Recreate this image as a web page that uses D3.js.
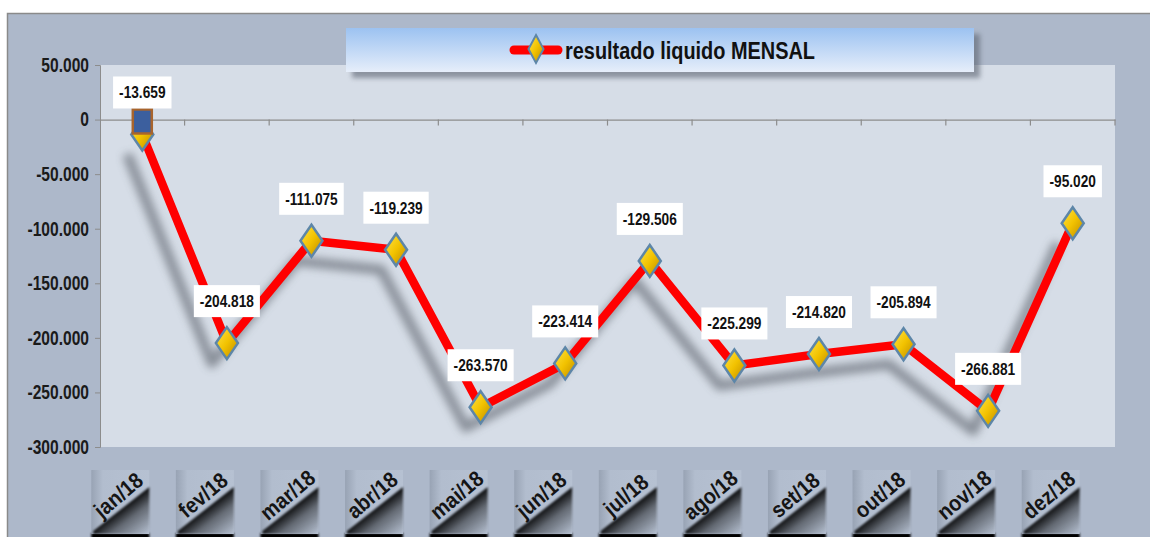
<!DOCTYPE html>
<html>
<head>
<meta charset="utf-8">
<script src="https://cdn.jsdelivr.net/npm/d3@7"></script>
<style>
  html, body { margin: 0; padding: 0; background: #fff; }
  svg { display: block; }
  text { font-family: "Liberation Sans", Arial, sans-serif; font-weight: bold; }
</style>
</head>
<body>
<div id="main"></div>
<script>
// chart data
const months = ['jan/18', 'fev/18', 'mar/18', 'abr/18', 'mai/18', 'jun/18', 'jul/18', 'ago/18', 'set/18', 'out/18', 'nov/18', 'dez/18'];
const resultado = [-13659, -204818, -111075, -119239, -263570, -223414, -129506, -225299, -214820, -205894, -266881, -95020];
const yTicks = [50000, 0, -50000, -100000, -150000, -200000, -250000, -300000];
const seriesName = 'resultado liquido MENSAL';

const width = 1150;
const height = 537;
const plot = { left: 100, right: 1115, top: 65, bottom: 447 };

const ptBR = d3.formatLocale({
  decimal: ',', thousands: '.', grouping: [3], currency: ['', ''], minus: '-',
});
const fmt = ptBR.format(',');

const svg = d3.select('#main').append('svg').attr('width', width).attr('height', height);
const defs = svg.append('defs');

const blur = (id, sd) => defs.append('filter').attr('id', id)
  .attr('x', '-50%').attr('y', '-50%').attr('width', '200%').attr('height', '200%')
  .append('feGaussianBlur').attr('stdDeviation', sd);
blur('shadowBlur', 4);
blur('softBlur', 2.5);
blur('tinyBlur', 1.2);

const legendGrad = defs.append('linearGradient').attr('id', 'legendGrad').attr('x1', 0).attr('y1', 0).attr('x2', 0).attr('y2', 1);
legendGrad.append('stop').attr('offset', '0%').attr('stop-color', '#9cc2f1');
legendGrad.append('stop').attr('offset', '100%').attr('stop-color', '#e6eefa');

const goldGrad = defs.append('linearGradient').attr('id', 'goldGrad').attr('x1', 0).attr('y1', 0).attr('x2', 1).attr('y2', 1);
goldGrad.append('stop').attr('offset', '0%').attr('stop-color', '#ffe54a');
goldGrad.append('stop').attr('offset', '50%').attr('stop-color', '#f2c200');
goldGrad.append('stop').attr('offset', '100%').attr('stop-color', '#b88600');

const boxGrad = defs.append('linearGradient').attr('id', 'boxGrad').attr('x1', 0).attr('y1', 0).attr('x2', 1).attr('y2', 0);
boxGrad.append('stop').attr('offset', '0%').attr('stop-color', '#98a3b4');
boxGrad.append('stop').attr('offset', '20%').attr('stop-color', '#b2bdce');
boxGrad.append('stop').attr('offset', '100%').attr('stop-color', '#b6c1d2');

// shadow under the rotated category text
const catShade = defs.append('linearGradient').attr('id', 'catShade')
  .attr('gradientUnits', 'userSpaceOnUse')
  .attr('x1', 1.5).attr('y1', 8).attr('x2', 23.7).attr('y2', 37.1);
catShade.append('stop').attr('offset', '0%').attr('stop-color', '#000').attr('stop-opacity', 0.9);
catShade.append('stop').attr('offset', '35%').attr('stop-color', '#000').attr('stop-opacity', 0.45);
catShade.append('stop').attr('offset', '100%').attr('stop-color', '#000').attr('stop-opacity', 0);

// chart area background
svg.append('rect').attr('x', 7).attr('y', 13).attr('width', width - 7).attr('height', height - 13)
  .attr('fill', '#adb8ca');
svg.append('path').attr('d', `M7.5,${height}V13.5H${width}`).attr('fill', 'none')
  .attr('stroke', '#8a8a8a').attr('stroke-width', 1.5);

// plot area
svg.append('rect').attr('x', plot.left).attr('y', plot.top)
  .attr('width', plot.right - plot.left).attr('height', plot.bottom - plot.top)
  .attr('fill', '#d6dde7');

const x = d3.scaleBand().domain(months).range([plot.left, plot.right]);
const y = d3.scaleLinear().domain([-300000, 50000]).range([plot.bottom, plot.top]);

// y axis
const tickSx = 0.78;
const yAxis = svg.append('g').attr('transform', `translate(${plot.left},0)`)
  .call(d3.axisLeft(y).tickValues(yTicks).tickFormat(fmt).tickSize(5).tickPadding(7));
yAxis.select('.domain').attr('stroke', '#8c8c8c');
yAxis.selectAll('.tick line').attr('stroke', '#8c8c8c');
yAxis.selectAll('.tick text').attr('font-size', 20).attr('fill', '#1a1a1a')
  .attr('font-family', '"Liberation Sans", Arial, sans-serif')
  .attr('font-weight', 'bold')
  .attr('x', -11 / tickSx)
  .attr('transform', `scale(${tickSx},1)`);

// zero axis with shadow
svg.append('line').attr('x1', plot.left).attr('x2', plot.right)
  .attr('y1', y(0) + 14).attr('y2', y(0) + 14)
  .attr('stroke', '#7d8594').attr('stroke-width', 6).attr('opacity', 0.45)
  .attr('filter', 'url(#shadowBlur)');
const xAxis = svg.append('g').attr('transform', `translate(0,${y(0)})`)
  .call(d3.axisBottom(x).tickSize(0).tickFormat(''));
xAxis.select('.domain').attr('stroke', '#8c8c8c').attr('stroke-width', 1.2);
const bounds = months.map((m) => x(m)).concat([plot.right]).slice(1);
svg.selectAll('.xtick').data(bounds).enter().append('line')
  .attr('x1', (d) => d).attr('x2', (d) => d)
  .attr('y1', y(0)).attr('y2', y(0) + 6)
  .attr('stroke', '#8c8c8c').attr('stroke-width', 1.2);

// category labels in shadowed boxes
const catG = svg.append('g');
months.forEach((m) => {
  const cx = x(m) + x.bandwidth() / 2 - 22;
  const g = catG.append('g').attr('transform', `translate(${cx},501)`);
  g.append('rect').attr('x', -29).attr('y', 32).attr('width', 58).attr('height', 10)
    .attr('fill', '#000').attr('filter', 'url(#tinyBlur)');
  g.append('rect').attr('x', -29).attr('y', -31).attr('width', 58).attr('height', 64)
    .attr('fill', 'url(#boxGrad)');
  g.append('path').attr('d', 'M29,-14 L29,33 L-27,33 L-27,30 Z').attr('fill', 'url(#catShade)')
    .attr('filter', 'url(#tinyBlur)');
  g.append('text').attr('transform', 'translate(-2,-6) rotate(-40) scale(0.9,1)')
    .attr('text-anchor', 'middle')
    .attr('dy', '0.35em').attr('font-size', 22)
    .attr('fill', '#151515').text(m);
});

// line shadow
const pts = months.map((m, i) => [x(m) + x.bandwidth() / 2, y(resultado[i])]);
const line = d3.line();
svg.append('path').attr('d', line(pts.map(([px, py]) => [px - 15, py + 20])))
  .attr('fill', 'none').attr('stroke', '#4a4f58').attr('stroke-width', 10)
  .attr('stroke-linejoin', 'round').attr('opacity', 0.55).attr('filter', 'url(#shadowBlur)');

// main line
svg.append('path').attr('d', line(pts)).attr('fill', 'none')
  .attr('stroke', '#ff0000').attr('stroke-width', 8.5).attr('stroke-linejoin', 'round');

// markers
const diamond = (w, h) => `M0,${-h}L${w},0L0,${h}L${-w},0Z`;
svg.selectAll('.marker').data(pts).enter().append('path')
  .attr('transform', (d) => `translate(${d[0]},${d[1]})`)
  .attr('d', diamond(11, 16))
  .attr('fill', 'url(#goldGrad)').attr('stroke', '#5d86a8').attr('stroke-width', 2.5);
// first point drawn as the boxed marker of the original
svg.append('rect').attr('x', pts[0][0] - 9.5).attr('y', pts[0][1] - 25)
  .attr('width', 19).attr('height', 24)
  .attr('fill', '#3c5f9e').attr('stroke', '#a8642c').attr('stroke-width', 2.5);

// data labels
const labelSx = 0.83;
const labelG = svg.append('g');
pts.forEach(([px, py], i) => {
  const g = labelG.append('g').attr('transform', `translate(${px},${py - 42})`);
  const t = g.append('text').attr('text-anchor', 'middle').attr('dy', '0.36em')
    .attr('transform', `scale(${labelSx},1)`)
    .attr('font-size', 16.5).attr('fill', '#111').text(fmt(resultado[i]));
  const w = t.node().getComputedTextLength() * labelSx;
  g.insert('rect', 'text').attr('x', -w / 2 - 6).attr('y', -16)
    .attr('width', w + 12).attr('height', 32).attr('fill', '#fff');
});

// legend
const lg = svg.append('g');
lg.append('rect').attr('x', 352).attr('y', 34).attr('width', 628).attr('height', 44)
  .attr('fill', '#5a6270').attr('opacity', 0.6).attr('filter', 'url(#softBlur)');
lg.append('rect').attr('x', 346).attr('y', 28).attr('width', 628).attr('height', 44)
  .attr('fill', 'url(#legendGrad)');
lg.append('line').attr('x1', 514).attr('x2', 558).attr('y1', 50).attr('y2', 50)
  .attr('stroke', '#ff0000').attr('stroke-width', 9).attr('stroke-linecap', 'round');
lg.append('path').attr('transform', 'translate(536,49)').attr('d', diamond(7.5, 14))
  .attr('fill', 'url(#goldGrad)').attr('stroke', '#5d86a8').attr('stroke-width', 2);
lg.append('text').attr('transform', 'translate(565,50) scale(0.83,1)').attr('dy', '0.36em')
  .attr('font-size', 24).attr('fill', '#111').text(seriesName);
</script>
</body>
</html>
